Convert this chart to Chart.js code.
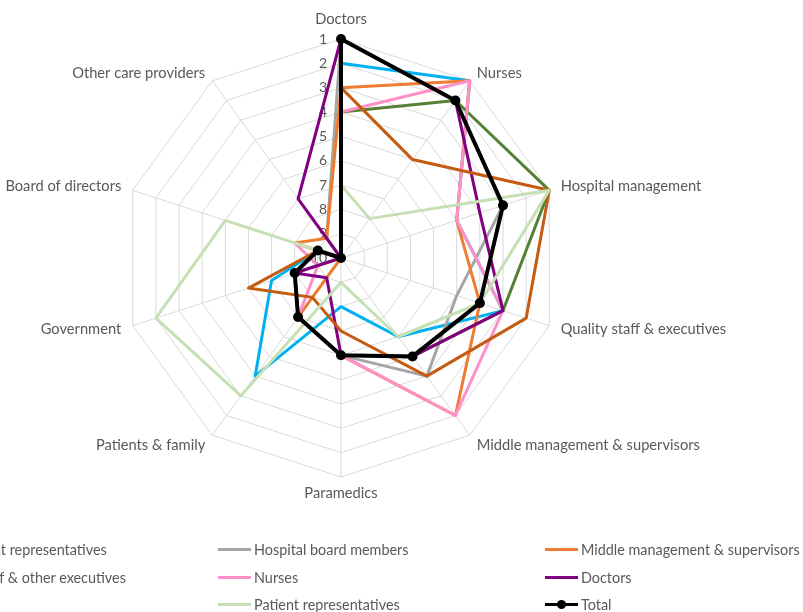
<!DOCTYPE html>
<html>
<head>
<meta charset="utf-8">
<title>Stakeholder ranking</title>
<script src="https://cdn.jsdelivr.net/npm/chart.js@4.4.1/dist/chart.umd.min.js"></script>
<style>
  body { margin: 0; background: #fff; }
  #wrap { position: relative; width: 803px; height: 612px; overflow: hidden; }
  #chart { position: absolute; left: 0; top: 0; }
  .item { position: absolute; height: 20px; display: flex; align-items: center;
          font: 14.4px Lato, sans-serif; color: #595959; white-space: nowrap; }
  .mark { position: relative; width: 33px; height: 3px; margin-right: 3px; }
  .dot { position: absolute; left: 12px; top: -3px; width: 9px; height: 9px; border-radius: 50%; background: #000; }
</style>
</head>
<body>
<div id="wrap">
  <canvas id="chart" width="803" height="612"></canvas>
  <div id="legend"></div>
</div>
<script>
// axes of the radar, clockwise from the top
const axes = ["Doctors", "Nurses", "Hospital management", "Quality staff & executives",
  "Middle management & supervisors", "Paramedics", "Patients & family", "Government",
  "Board of directors", "Other care providers"];
const rankTicks = [1, 2, 3, 4, 5, 6, 7, 8, 9, 10];

// ranking given by each group (1 = most important)
const governmentReps = [2, 1, 5, 3, 6, 8, 4, 7, 9, 10];
const boardMembers   = [1, 2, 3, 5, 4, 6, 7, 8, 10, 9];
const middleMgmt     = [3, 1, 5, 4, 2, 6, 7, 10, 8, 9];
const qualityStaff   = [4, 2, 1, 3, 5, 6, 7, 8, 9, 10];
const nurses         = [4, 1, 5, 3, 2, 6, 7, 9, 8, 10];
const doctors        = [1, 2, 4, 3, 5, 6, 9, 8, 10, 7];
const paramedics     = [3, 5, 1, 2, 4, 7, 8, 6, 9, 10];
const patientReps    = [7, 8, 1, 4, 6, 9, 3, 2, 5, 10];
const total          = [1, 2, 3, 4, 5, 6, 7, 8, 9, 10];

const seriesNames = ["Government representatives", "Hospital board members", "Middle management & supervisors",
  "Quality staff & other executives", "Nurses", "Doctors", "Paramedics", "Patient representatives", "Total"];
const seriesData = [governmentReps, boardMembers, middleMgmt, qualityStaff, nurses, doctors, paramedics, patientReps, total];
const seriesColors = ["#00b0f0", "#a5a5a5", "#ed7d31", "#548235", "#ff8fc8", "#800080", "#c55a11", "#c5e0b4", "#000000"];

const textColor = "#595959";

// excel style labels: ticks left of the top axis, names around the outside
const excelLabels = {
  id: "excelLabels",
  beforeDatasetsDraw(chart) {
    const r = chart.scales.r;
    const ctx = chart.ctx;
    ctx.save();
    ctx.font = "14px Lato, sans-serif";
    ctx.fillStyle = textColor;
    ctx.textAlign = "right";
    ctx.textBaseline = "middle";
    rankTicks.forEach(v => {
      ctx.fillText(String(v), r.xCenter - 14, r.yCenter - r.getDistanceFromCenterForValue(v));
    });
    ctx.restore();
  },
  afterDraw(chart) {
    const r = chart.scales.r;
    const ctx = chart.ctx;
    ctx.save();
    ctx.font = "14.7px Lato, sans-serif";
    ctx.fillStyle = textColor;
    axes.forEach((name, i) => {
      const deg = i * 360 / axes.length;
      const gap = deg === 180 ? 9 : 12;
      const p = r.getPointPosition(i, r.drawingArea + gap);
      ctx.textAlign = (deg === 0 || deg === 180) ? "center" : (deg < 180 ? "left" : "right");
      ctx.textBaseline = deg === 0 ? "bottom" : (deg === 180 ? "top" : "middle");
      ctx.fillText(name, p.x, p.y + ((deg === 36 || deg === 324) ? 2 : 0));
    });
    ctx.restore();
  }
};

const datasets = seriesNames.map((name, i) => ({
  label: name,
  data: seriesData[i],
  borderColor: seriesColors[i],
  backgroundColor: seriesColors[i],
  borderWidth: name === "Total" ? 4 : 3,
  borderJoinStyle: "round",
  fill: false,
  pointRadius: name === "Total" ? 5 : 0,
  pointBorderWidth: 0,
  // excel draws later series on top
  order: seriesNames.length - i
}));

const chart = new Chart(document.getElementById("chart"), {
  type: "radar",
  data: { labels: axes, datasets: datasets },
  options: {
    responsive: false,
    animation: false,
    layout: { padding: { left: 122, top: 39, right: 242, bottom: 134 } },
    plugins: { legend: { display: false }, tooltip: { enabled: false } },
    elements: { line: { tension: 0 } },
    scales: {
      r: {
        min: 1,
        max: 10,
        reverse: true,
        ticks: { display: false, stepSize: 1 },
        pointLabels: { display: false },
        grid: { color: "#d9d9d9", lineWidth: 1 },
        angleLines: { color: "#d9d9d9", lineWidth: 1 }
      }
    }
  },
  plugins: [excelLabels]
});

// legend in three columns, the first column runs off the left edge like the original
const legendCols = [-109, 218, 545];
const legendRows = [549, 577, 604];
const legendBox = document.getElementById("legend");
seriesNames.forEach((name, i) => {
  const item = document.createElement("div");
  item.className = "item";
  item.style.left = legendCols[i % 3] + "px";
  item.style.top = (legendRows[Math.floor(i / 3)] - 10) + "px";
  const mark = document.createElement("span");
  mark.className = "mark";
  mark.style.background = seriesColors[i];
  if (name === "Total") {
    const dot = document.createElement("span");
    dot.className = "dot";
    mark.appendChild(dot);
  }
  item.appendChild(mark);
  item.appendChild(document.createTextNode(name));
  legendBox.appendChild(item);
});
</script>
</body>
</html>
